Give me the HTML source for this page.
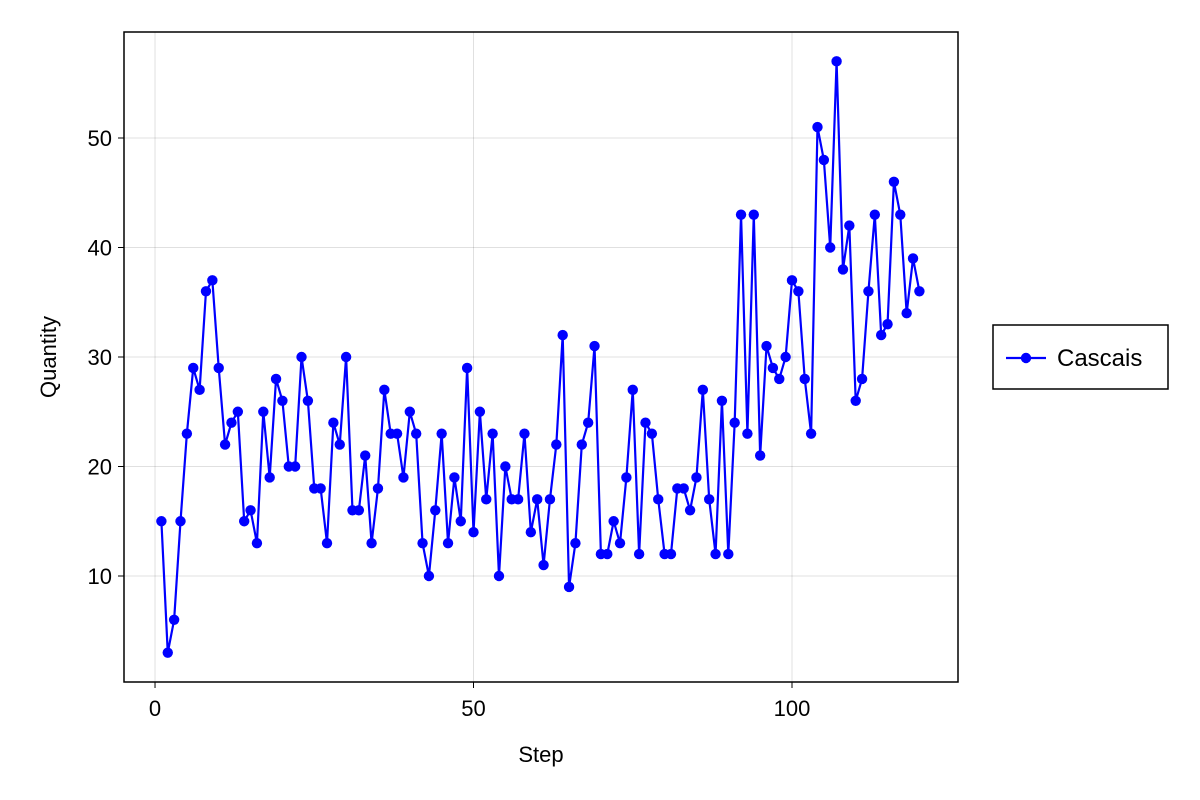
<!DOCTYPE html>
<html><head><meta charset="utf-8"><style>
html,body{margin:0;padding:0;background:#fff;}
svg{display:block;font-family:"Liberation Sans",sans-serif;}
</style></head><body>
<svg id="chart" width="1200" height="800"></svg>
<script>
const steps = Array.from({length:120},(_, i)=>i+1);
const quantities = [15,3,6,15,23,29,27,36,37,29,22,24,25,15,16,13,25,19,28,26,20,20,30,26,18,18,13,24,22,30,16,16,21,13,18,27,23,23,19,25,23,13,10,16,23,13,19,15,29,14,25,17,23,10,20,17,17,23,14,17,11,17,22,32,9,13,22,24,31,12,12,15,13,19,27,12,24,23,17,12,12,18,18,16,19,27,17,12,26,12,24,43,23,43,21,31,29,28,30,37,36,28,23,51,48,40,57,38,42,26,28,36,43,32,33,46,43,34,39,36];
const xTicks = [0,50,100];
const yTicks = [10,20,30,40,50];
const seriesName = "Cascais";

const L=124,T=32,R=958,B=682;
const xMin=-4.87,xMax=126.06,yMin=0.32,yMax=59.68;
const xs=v=>L+(v-xMin)/(xMax-xMin)*(R-L);
const ys=v=>B-(v-yMin)/(yMax-yMin)*(B-T);
const svg=document.getElementById('chart');
const NS='http://www.w3.org/2000/svg';
function mk(tag,attrs,parent){const e=document.createElementNS(NS,tag);for(const k in attrs)e.setAttribute(k,attrs[k]);(parent||svg).appendChild(e);return e;}

xTicks.forEach(t=>{
  const g=mk('line',{x1:xs(t),x2:xs(t),y1:T,y2:B,stroke:'#000','stroke-opacity':0.12,'stroke-width':1});
  
  
  const tk=mk('line',{x1:xs(t),x2:xs(t),y1:B,y2:B+6,stroke:'#000','stroke-width':1});
  
  
  const tx=mk('text',{x:xs(t),y:B+34,'text-anchor':'middle','font-size':22,fill:'#000'});
  tx.textContent=t;
  
  
});
yTicks.forEach(t=>{
  const g=mk('line',{x1:L,x2:R,y1:ys(t),y2:ys(t),stroke:'#000','stroke-opacity':0.12,'stroke-width':1});
  
  
  const tk=mk('line',{x1:L-6,x2:L,y1:ys(t),y2:ys(t),stroke:'#000','stroke-width':1});
  
  
  const tx=mk('text',{x:L-12,y:ys(t)+8,'text-anchor':'end','font-size':22,fill:'#000'});
  tx.textContent=t;
  
  
});
const frame=mk('rect',{x:L,y:T,width:R-L,height:B-T,fill:'none',stroke:'#000','stroke-width':1.5});



const pts=steps.map((s,i)=>xs(s)+','+ys(quantities[i])).join(' ');
const line=mk('polyline',{points:pts,fill:'none',stroke:'#0000ff','stroke-width':2.2,'stroke-linejoin':'round'});


steps.forEach((s,i)=>{
  const c=mk('circle',{cx:xs(s),cy:ys(quantities[i]),r:5.2,fill:'#0000ff'});
  
  
});

const xl=mk('text',{x:(L+R)/2,y:762,'text-anchor':'middle','font-size':22});
xl.textContent='Step';


const yl=mk('text',{x:0,y:0,'text-anchor':'middle','font-size':22,transform:`translate(56,${(T+B)/2}) rotate(-90)`});
yl.textContent='Quantity';



const lg=mk('g',{});


mk('rect',{x:993,y:325,width:175,height:64,fill:'#fff',stroke:'#000','stroke-width':1.5},lg);
mk('line',{x1:1006,x2:1046,y1:358,y2:358,stroke:'#0000ff','stroke-width':2.2},lg);
mk('circle',{cx:1026,cy:358,r:5.2,fill:'#0000ff'},lg);
const lt=mk('text',{x:1057,y:366,'font-size':24},lg);
lt.textContent=seriesName;


</script>
</body></html>
